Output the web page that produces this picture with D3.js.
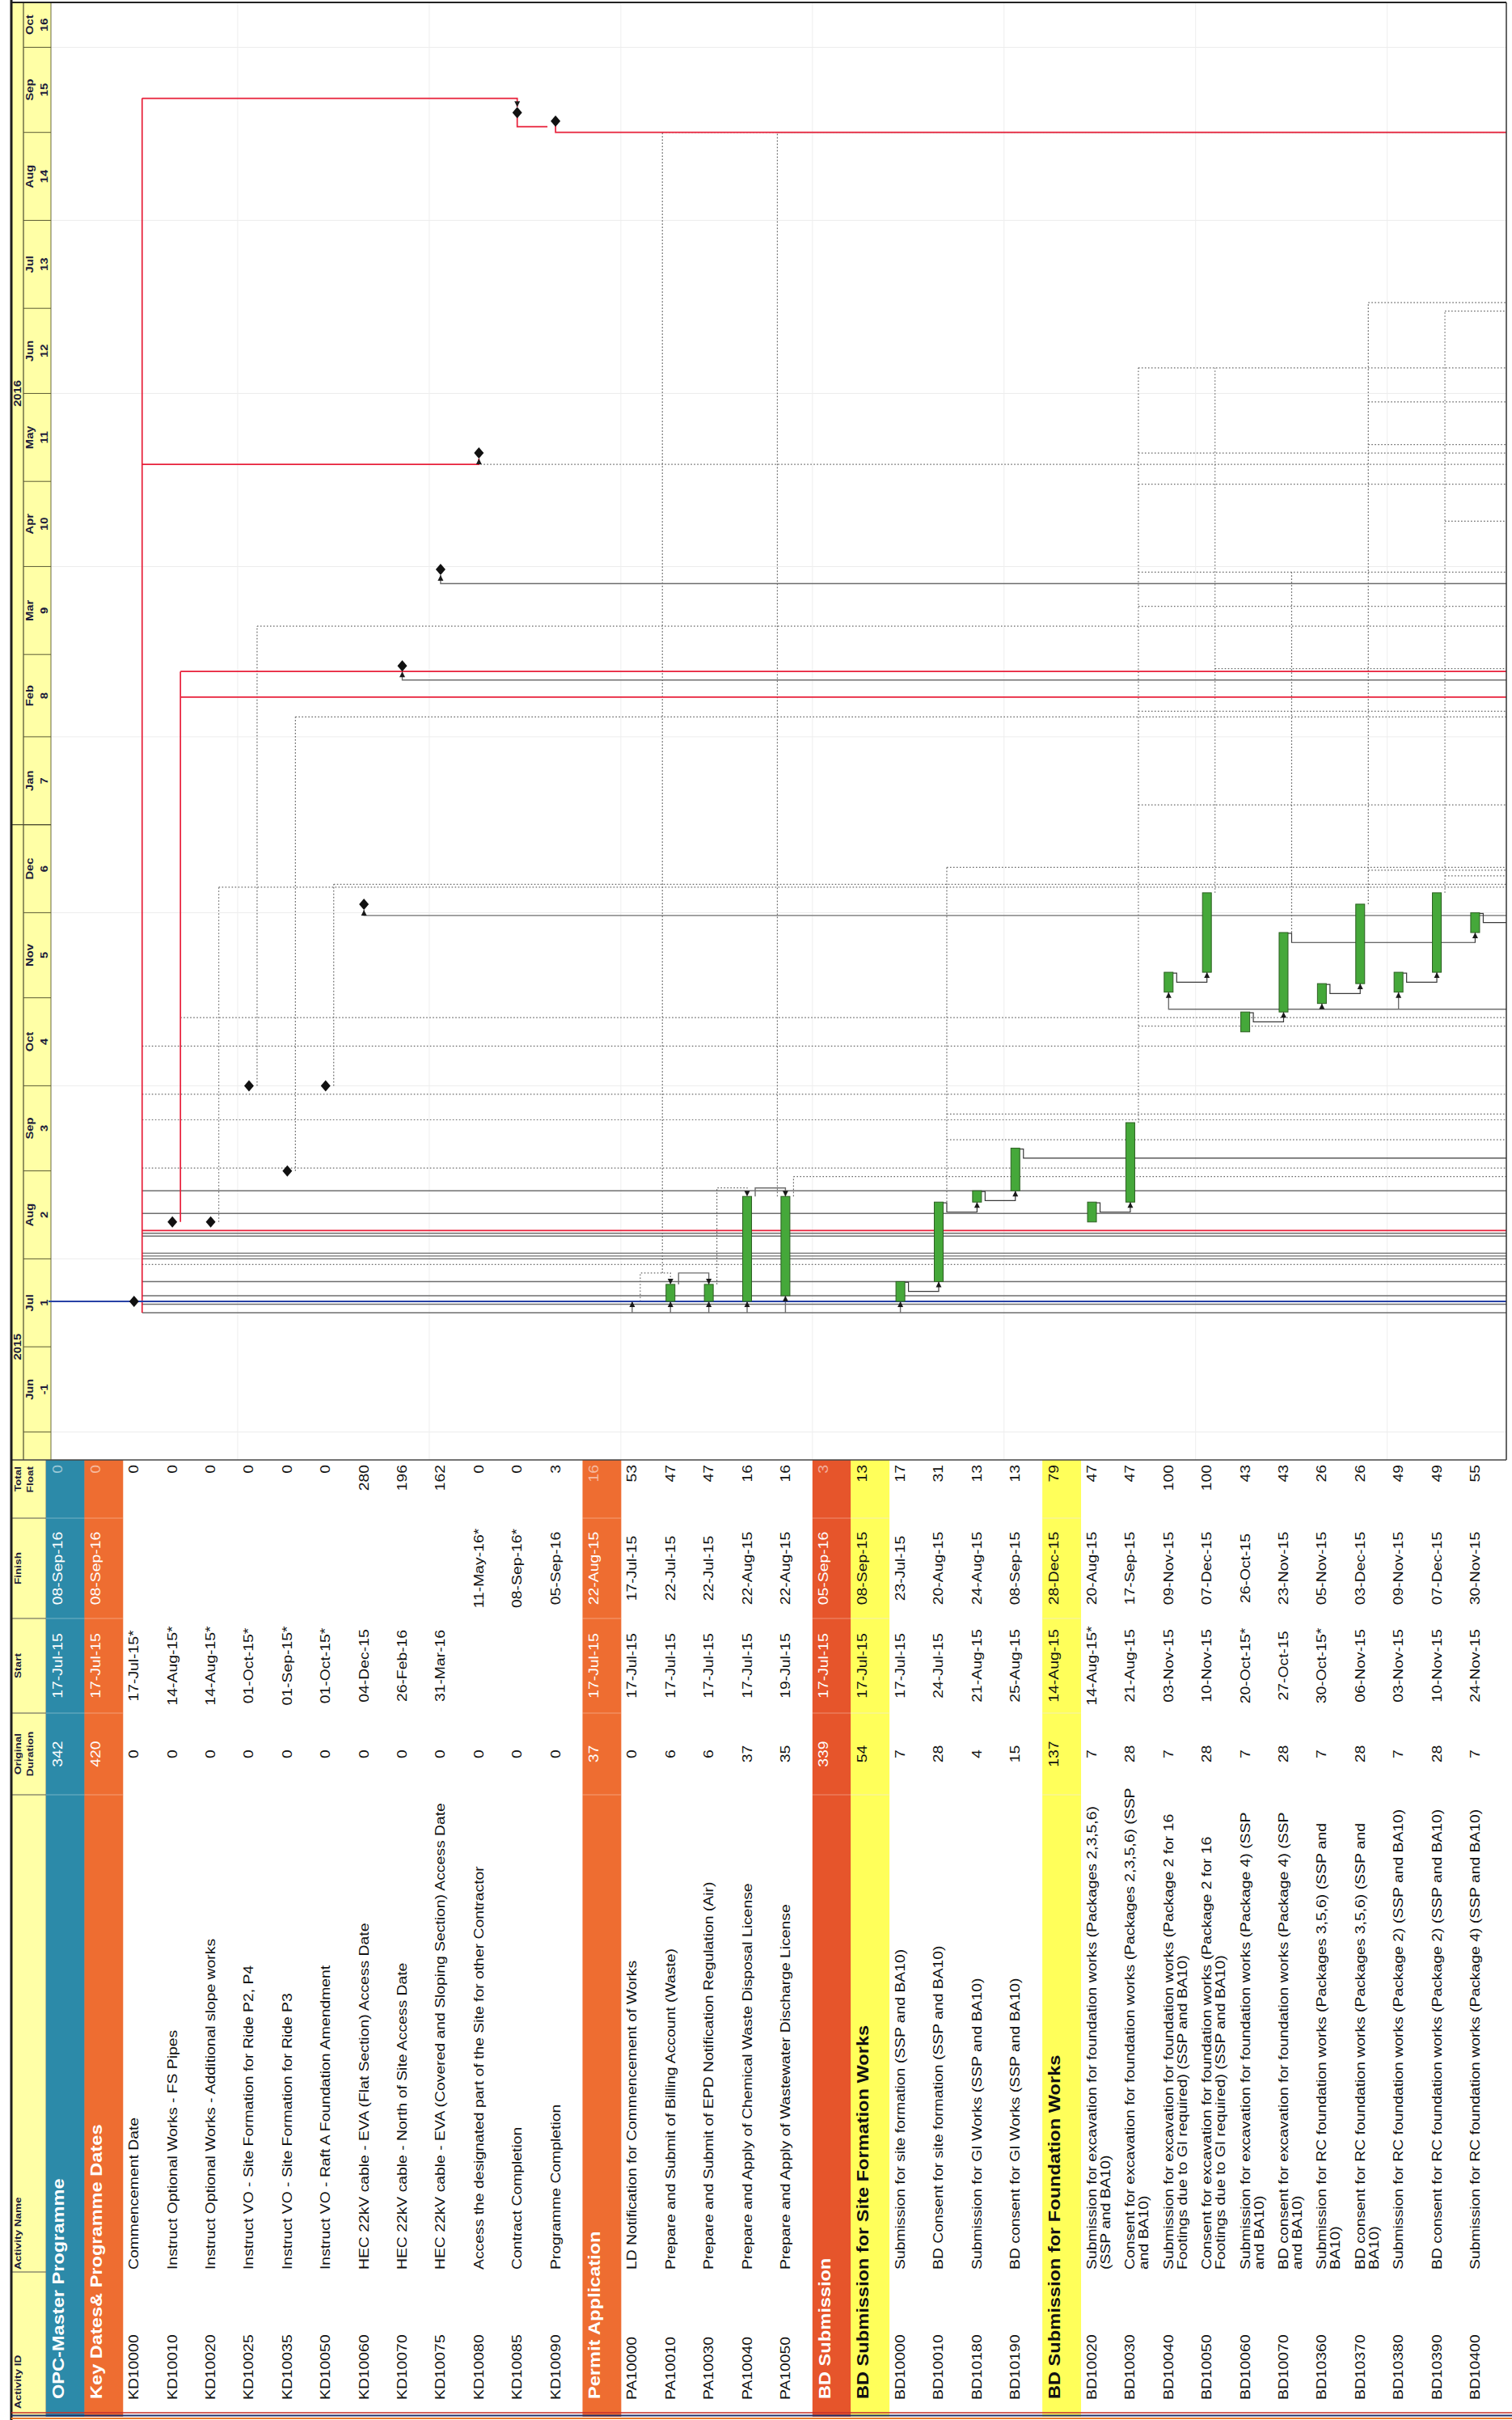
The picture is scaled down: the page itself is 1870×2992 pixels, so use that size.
<!DOCTYPE html>
<html><head><meta charset="utf-8">
<script src="https://cdn.jsdelivr.net/npm/d3@7"></script>
<style>body{margin:0;background:#fff}svg{display:block}text{font-family:"Liberation Sans",Arial,sans-serif}</style>
</head><body>
<svg id="c" width="1870" height="2992"></svg>
<script>
// ---------------- DATA ----------------
const activityIds = ["","","KD10000","KD10010","KD10020","KD10025","KD10035","KD10050","KD10060","KD10070","KD10075","KD10080","KD10085","KD10090","","PA10000","PA10010","PA10030","PA10040","PA10050","","","BD10000","BD10010","BD10180","BD10190","","BD10020","BD10030","BD10040","BD10050","BD10060","BD10070","BD10360","BD10370","BD10380","BD10390","BD10400"];
const activityNames = [
"OPC-Master Programme",
"Key Dates& Programme Dates",
"Commencement Date",
"Instruct Optional Works - FS Pipes",
"Instruct Optional Works - Additional slope works",
"Instruct VO - Site Formation for Ride P2, P4",
"Instruct VO - Site Formation for Ride P3",
"Instruct VO - Raft A Foundation Amendment",
"HEC 22kV cable - EVA (Flat Section) Access Date",
"HEC 22kV cable - North of Site Access Date",
"HEC 22kV cable - EVA (Covered and Sloping Section) Access Date",
"Access the designated part of the Site for other Contractor",
"Contract Completion",
"Programme Completion",
"Permit Application",
"LD Notification for Commencement of Works",
"Prepare and Submit of Billing Account (Waste)",
"Prepare and Submit of EPD Notification Regulation (Air)",
"Prepare and Apply of Chemical Waste Disposal License",
"Prepare and Apply of Wastewater Discharge License",
"BD Submission",
"BD Submission for Site Formation Works",
"Submission for site formation (SSP and BA10)",
"BD Consent for site formation (SSP and BA10)",
"Submission for GI Works (SSP and BA10)",
"BD consent for GI Works (SSP and BA10)",
"BD Submission for Foundation Works",
"Submission for excavation for foundation works (Packages 2,3,5,6)\n(SSP and BA10)",
"Consent for excavation for foundation works (Packages 2,3,5,6) (SSP\nand BA10)",
"Submission for excavation for foundation works (Package 2 for 16\nFootings due to GI required) (SSP and BA10)",
"Consent for excavation for foundation works (Package 2 for 16\nFootings due to GI required) (SSP and BA10)",
"Submission for excavation for foundation works (Package 4) (SSP\nand BA10)",
"BD consent for excavation for foundation works (Package 4) (SSP\nand BA10)",
"Submission for RC foundation works (Packages 3,5,6) (SSP and\nBA10)",
"BD consent for RC foundation works (Packages 3,5,6) (SSP and\nBA10)",
"Submission for RC foundation works (Package 2) (SSP and BA10)",
"BD consent for RC foundation works (Package 2) (SSP and BA10)",
"Submission for RC foundation works (Package 4) (SSP and BA10)"];
const rowKinds = ["wbs1","wbs2","ms","ms","ms","ms","ms","ms","ms","ms","ms","ms","ms","ms","wbs2","task","task","task","task","task","wbs2r","wbs3","task","task","task","task","wbs3","task","task","task","task","task","task","task","task","task","task","task"];
const durations = [342,420,0,0,0,0,0,0,0,0,0,0,0,0,37,0,6,6,37,35,339,54,7,28,4,15,137,7,28,7,28,7,28,7,28,7,28,7];
const starts = ["17-Jul-15","17-Jul-15","17-Jul-15*","14-Aug-15*","14-Aug-15*","01-Oct-15*","01-Sep-15*","01-Oct-15*","04-Dec-15","26-Feb-16","31-Mar-16","","","","17-Jul-15","17-Jul-15","17-Jul-15","17-Jul-15","17-Jul-15","19-Jul-15","17-Jul-15","17-Jul-15","17-Jul-15","24-Jul-15","21-Aug-15","25-Aug-15","14-Aug-15","14-Aug-15*","21-Aug-15","03-Nov-15","10-Nov-15","20-Oct-15*","27-Oct-15","30-Oct-15*","06-Nov-15","03-Nov-15","10-Nov-15","24-Nov-15"];
const finishes = ["08-Sep-16","08-Sep-16","","","","","","","","","","11-May-16*","08-Sep-16*","05-Sep-16","22-Aug-15","17-Jul-15","22-Jul-15","22-Jul-15","22-Aug-15","22-Aug-15","05-Sep-16","08-Sep-15","23-Jul-15","20-Aug-15","24-Aug-15","08-Sep-15","28-Dec-15","20-Aug-15","17-Sep-15","09-Nov-15","07-Dec-15","26-Oct-15","23-Nov-15","05-Nov-15","03-Dec-15","09-Nov-15","07-Dec-15","30-Nov-15"];
const totalFloats = [0,0,0,0,0,0,0,0,280,196,162,0,0,3,16,53,47,47,16,16,3,13,17,31,13,13,79,47,47,100,100,43,43,26,26,49,49,55];

const headerLabels = [["Activity ID"],["Activity Name"],["Original","Duration"],["Start"],["Finish"],["Total","Float"]];
const yearLabels = ["2015","2016"];
const yearLabelDates = ["01-Jul-15","01-Jun-16"];
const yearBreaks = ["01-Jan-16"];
const monthLabels = ["Jun","Jul","Aug","Sep","Oct","Nov","Dec","Jan","Feb","Mar","Apr","May","Jun","Jul","Aug","Sep","Oct"];
const monthNumbers = ["-1","1","2","3","4","5","6","7","8","9","10","11","12","13","14","15","16"];
const monthStarts = ["01-Jun-15","01-Jul-15","01-Aug-15","01-Sep-15","01-Oct-15","01-Nov-15","01-Dec-15","01-Jan-16","01-Feb-16","01-Mar-16","01-Apr-16","01-May-16","01-Jun-16","01-Jul-16","01-Aug-16","01-Sep-16","01-Oct-16","01-Nov-16"];
const gridDates = ["01-Jun-15","01-Aug-15","01-Oct-15","01-Dec-15","01-Feb-16","01-Apr-16","01-Jun-16","01-Aug-16","01-Oct-16"];
const dataDate = "17-Jul-15";

// relationship fans: [activity, side, run class, run start, [[branch date, class]]]
const fans = [
 ["KD10000","r","crit","13-Jul-15",[["13-Jul-15","drv"],["16-Jul-15","drv"],["19-Jul-15","drv"],["24-Jul-15","drv"],["30-Jul-15","nd"],["01-Aug-15","drv"],["02-Aug-15","drv"],["03-Aug-15","drv"],["09-Aug-15","drv"],["10-Aug-15","drv"],["11-Aug-15","crit"],["17-Aug-15","drv"],["25-Aug-15","drv"],["02-Sep-15","nd"],["19-Sep-15","nd"],["28-Sep-15","nd"],["15-Oct-15","nd"],["13-Sep-16",null]]],
 ["KD10010","r","crit","14-Aug-15",[["25-Oct-15","nd"],["15-Feb-16","crit"],["24-Feb-16","crit"]]],
 ["KD10020","r","nd","14-Aug-15",[["10-Dec-15","nd"]]],
 ["KD10025","r","nd","01-Oct-15",[["11-Mar-16","nd"]]],
 ["KD10035","r","nd","01-Sep-15",[["08-Feb-16","nd"]]],
 ["KD10050","r","nd","01-Oct-15",[["11-Dec-15","nd"]]],
 ["PA10010","l","nd","27-Jul-15",[["01-Sep-16","nd"]]],
 ["PA10050","l","nd","23-Aug-15",[["01-Sep-16","nd"]]],
 ["PA10050","r","nd","23-Aug-15",[["30-Aug-15","nd"]]],
 ["BD10010","r","nd","21-Aug-15",[["12-Sep-15","nd"],["21-Sep-15","nd"],["17-Dec-15","nd"]]],
 ["BD10030","r","nd","18-Sep-15",[["22-Oct-15","nd"],["08-Jan-16","nd"],["10-Feb-16","nd"],["18-Mar-16","nd"],["30-Mar-16","nd"],["30-Apr-16","nd"],["11-May-16","nd"],["10-Jun-16","nd"]]],
 ["BD10050","r","nd","08-Dec-15",[["25-Feb-16","nd"],["10-Jun-16",null]]],
 ["BD10070","r","nd","24-Nov-15",[["30-Mar-16",null]]],
 ["BD10370","r","nd","04-Dec-15",[["16-Dec-15","nd"],["14-May-16","nd"],["29-May-16","nd"],["03-Jul-16","nd"]]],
 ["BD10390","r","nd","08-Dec-15",[["14-Dec-15","nd"],["17-Apr-16","nd"],["30-Jun-16","nd"]]]
];
// routed relationships: [class, [[activity|edge, side, date], ...]]
const routedLinks = [
 ["crit",[["KD10000","r","13-Sep-16"],["KD10085","c","13-Sep-16"],["KD10085","c","10-Sep-16"]]],
 ["crit",[["KD10000","r","07-May-16"],["KD10080","c","07-May-16"],["KD10080","c","09-May-16"]]],
 ["crit",[["KD10085","c","08-Sep-16"],["KD10085","c","03-Sep-16"],["KD10090","l","03-Sep-16"]]],
 ["crit",[["KD10090","c","05-Sep-16"],["KD10090","c","01-Sep-16"],["edge","","01-Sep-16"]]],
 ["nd",[["KD10080","c","11-May-16"],["KD10080","c","07-May-16"],["edge","","07-May-16"]]],
 ["drv",[["edge","","30-Nov-15"],["KD10060","c","30-Nov-15"],["KD10060","c","02-Dec-15"]]],
 ["drv",[["edge","","21-Feb-16"],["KD10070","c","21-Feb-16"],["KD10070","c","24-Feb-16"]]],
 ["drv",[["edge","","26-Mar-16"],["KD10075","c","26-Mar-16"],["KD10075","c","29-Mar-16"]]],
 ["nd",[["PA10000","r","17-Jul-15"],["PA10000","r","27-Jul-15"],["PA10010","c","27-Jul-15"],["PA10010","c","23-Jul-15"]]],
 ["drv",[["PA10010","r","23-Jul-15"],["PA10010","r","27-Jul-15"],["PA10030","c","27-Jul-15"],["PA10030","c","23-Jul-15"]]],
 ["nd",[["PA10030","r","23-Jul-15"],["PA10030","r","26-Aug-15"],["PA10040","c","26-Aug-15"],["PA10040","c","23-Aug-15"]]],
 ["drv",[["PA10040","r","23-Aug-15"],["PA10040","r","26-Aug-15"],["PA10050","c","26-Aug-15"],["PA10050","c","23-Aug-15"]]],
 ["drv",[["PA10000","c","13-Jul-15"],["PA10000","c","17-Jul-15"]]],
 ["drv",[["PA10010","c","13-Jul-15"],["PA10010","c","17-Jul-15"]]],
 ["drv",[["PA10030","c","13-Jul-15"],["PA10030","c","17-Jul-15"]]],
 ["drv",[["PA10040","c","13-Jul-15"],["PA10040","c","17-Jul-15"]]],
 ["drv",[["PA10050","c","13-Jul-15"],["PA10050","c","19-Jul-15"]]],
 ["drv",[["BD10000","c","13-Jul-15"],["BD10000","c","17-Jul-15"]]],
 ["drv",[["edge","","28-Oct-15"],["BD10040","c","28-Oct-15"],["BD10040","c","03-Nov-15"]]],
 ["drv",[["BD10360","c","28-Oct-15"],["BD10360","c","30-Oct-15"]]],
 ["drv",[["BD10380","c","28-Oct-15"],["BD10380","c","03-Nov-15"]]]
];
// finish-to-start: [predecessor, successor or null for off-page]
const fsLinks = [["BD10000","BD10010"],["BD10010","BD10180"],["BD10180","BD10190"],["BD10020","BD10030"],["BD10040","BD10050"],["BD10060","BD10070"],["BD10360","BD10370"],["BD10380","BD10390"],["BD10070","BD10400"],["BD10190",null],["BD10400",null]];

// ---------------- LAYOUT ----------------
const SX = 1.18;
const LEFT = 14, HDR = 57, TLHDR = 63, GTOP = 3, GBOT = 1805, EDGE = 1863, PAGEB = 2988;
const colB = [1805, 1877, 2001, 2118, 2219, 2809, 2988];
const parse = s => d3.utcParse("%d-%b-%y")(s.replace("*", ""));
const yT = d3.scaleUtc().domain([parse("17-Jul-15"), parse("08-Sep-16")]).range([1609, 1609 - 419 * 3.508]);
const yd = s => yT(parse(s));
const xRow = d3.scaleLinear().domain([0, 37]).range([71, 71 + 37 * 47.39]);
const RH = 47.39;
const idx = id => activityIds.indexOf(id);
const markX = (id, side) => {
  if (id === "edge") return EDGE;
  const c = xRow(idx(id));
  return side === "r" ? c + 10 : side === "l" ? c - 10 : c;
};
const styles = {
  crit: {stroke: "#e8203a", w: 1.7, dash: null},
  drv: {stroke: "#6e6e6e", w: 1.4, dash: null},
  nd: {stroke: "#6a6a6a", w: 1.2, dash: "1.6 2.4"},
  link: {stroke: "#3a3a3a", w: 1.2, dash: null}
};
const bandFill = {wbs1: "#2c8aa9", wbs2: "#ee6d31", wbs2r: "#e6552b", wbs3: "#ffff5a"};

const svg = d3.select("#c");
const gGrid = svg.append("g"), gTable = svg.append("g"), gHead = svg.append("g"),
      gLinks = svg.append("g"), gMarks = svg.append("g"), gFrame = svg.append("g");

function rt(parent, x, y, lines, o = {}) {
  const t = parent.append("text")
    .attr("transform", `translate(${x},${y}) rotate(-90) scale(${o.sx || SX},1)`)
    .attr("font-size", o.size || 16.4).attr("font-weight", o.weight || "normal")
    .attr("text-anchor", o.anchor || "start").attr("fill", o.fill || "#111")
    .attr("fill-opacity", o.opacity == null ? 1 : o.opacity);
  lines.forEach((ln, k) => t.append("tspan").attr("x", 0).attr("dy", k ? (o.lh || 17) : 0).text(ln));
  return t;
}
function seg(g, pts, cls) {
  const s = styles[cls];
  g.append("path").attr("d", d3.line()(pts)).attr("fill", "none")
    .attr("stroke", s.stroke).attr("stroke-width", s.w)
    .attr("stroke-dasharray", s.dash);
}
function arrow(g, x, y, dir) {
  const b = dir === "up" ? y + 7 : y - 7;
  g.append("path").attr("d", `M${x},${y}L${x - 3.5},${b}L${x + 3.5},${b}Z`).attr("fill", "#1a1a1a");
}

// ---------------- GRID ----------------
gridDates.forEach(d => {
  const y = yd(d);
  if (y > GTOP && y < GBOT) gGrid.append("line").attr("x1", TLHDR).attr("x2", EDGE).attr("y1", y).attr("y2", y)
    .attr("stroke", "#ececec").attr("stroke-width", 1);
});
d3.range(5, 38, 5).forEach(i => {
  const x = xRow(i) - 14;
  gGrid.append("line").attr("x1", x).attr("x2", x).attr("y1", GTOP).attr("y2", GBOT)
    .attr("stroke", "#eeeeee").attr("stroke-width", 1);
});

// ---------------- TABLE ----------------
const colMid = k => (colB[k] + colB[k + 1]) / 2;
gTable.append("rect").attr("x", LEFT).attr("y", GBOT).attr("width", HDR - LEFT).attr("height", PAGEB - GBOT).attr("fill", "#ffffa6");
colB.slice(1, 6).forEach(y => gTable.append("line").attr("x1", LEFT).attr("x2", HDR).attr("y1", y).attr("y2", y).attr("stroke", "#555").attr("stroke-width", 1));
gTable.append("line").attr("x1", HDR).attr("x2", HDR).attr("y1", GBOT).attr("y2", PAGEB).attr("stroke", "#777").attr("stroke-width", 1);
const hdrOpts = {size: 11.5, weight: "bold", fill: "#1b1b3a", lh: 15};
rt(gTable, 26, colB[6] - 10, headerLabels[0], {...hdrOpts, anchor: "start"});
rt(gTable, 26, colB[5] - 3, headerLabels[1], {...hdrOpts, anchor: "start"});
rt(gTable, 26, colMid(3), headerLabels[2], {...hdrOpts, anchor: "middle"});
rt(gTable, 26, colMid(2), headerLabels[3], {...hdrOpts, anchor: "middle"});
rt(gTable, 26, colMid(1), headerLabels[4], {...hdrOpts, anchor: "middle"});
rt(gTable, 26, colB[0] + 8, headerLabels[5], {...hdrOpts, anchor: "end"});

activityIds.forEach((id, i) => {
  const kind = rowKinds[i];
  const c = xRow(i), top = c - 14, base = c + 5.5;
  const band = kind.startsWith("wbs");
  let fill = "#111", tfOpacity = 1;
  if (band) {
    gTable.append("rect").attr("x", top).attr("y", GBOT).attr("width", RH + 0.5).attr("height", PAGEB - GBOT).attr("fill", bandFill[kind]);
    colB.slice(1, 5).forEach(y => gTable.append("line").attr("x1", top).attr("x2", top + RH).attr("y1", y).attr("y2", y)
      .attr("stroke", kind === "wbs3" ? "#f4f0b0" : "rgba(255,255,255,0.35)").attr("stroke-width", 1));
    const light = kind !== "wbs3";
    fill = light ? "#ffffff" : "#111111";
    tfOpacity = light ? 0.55 : 1;
    rt(gTable, c + 8, colB[6] - 22, [activityNames[i]], {size: 20, weight: "bold", fill});
  } else {
    rt(gTable, base, colB[6] - 21, [id]);
    rt(gTable, base, colB[5] - 3, activityNames[i].split("\n"));
  }
  rt(gTable, base, colMid(3), [String(durations[i])], {anchor: "middle", fill});
  if (starts[i]) rt(gTable, base, colMid(2), [starts[i]], {anchor: "middle", fill});
  if (finishes[i]) rt(gTable, base, colMid(1), [finishes[i]], {anchor: "middle", fill});
  rt(gTable, base, colB[0] + 6, [String(totalFloats[i])], {anchor: "end", fill, opacity: tfOpacity});
});

// ---------------- TIMELINE HEADER ----------------
gHead.append("rect").attr("x", LEFT).attr("y", GTOP).attr("width", TLHDR - LEFT).attr("height", GBOT - GTOP).attr("fill", "#ffffa6");
gHead.append("line").attr("x1", 29).attr("x2", 29).attr("y1", GTOP).attr("y2", GBOT).attr("stroke", "#4a4a30").attr("stroke-width", 1.2);
gHead.append("line").attr("x1", TLHDR).attr("x2", TLHDR).attr("y1", GTOP).attr("y2", GBOT).attr("stroke", "#6b6b40").attr("stroke-width", 1);
monthLabels.forEach((m, k) => {
  const y0 = Math.min(GBOT, yd(monthStarts[k])), y1 = Math.max(GTOP, yd(monthStarts[k + 1]));
  if (yd(monthStarts[k]) < GBOT) gHead.append("line").attr("x1", 29).attr("x2", TLHDR).attr("y1", y0).attr("y2", y0).attr("stroke", "#5a5a35").attr("stroke-width", 1);
  const mid = (y0 + y1) / 2;
  rt(gHead, 41, mid, [m], {size: 12.5, weight: "bold", anchor: "middle", fill: "#1b1b3a"});
  rt(gHead, 59, mid, [monthNumbers[k]], {size: 12.5, weight: "bold", anchor: "middle", fill: "#1b1b3a"});
});
yearBreaks.forEach(d => gHead.append("line").attr("x1", LEFT).attr("x2", TLHDR).attr("y1", yd(d)).attr("y2", yd(d)).attr("stroke", "#4a4a30").attr("stroke-width", 1.2));
yearLabels.forEach((yl, k) => rt(gHead, 26, yd(yearLabelDates[k]), [yl], {size: 12.5, weight: "bold", anchor: "middle", fill: "#1b1b3a"}));

// ---------------- RELATIONSHIPS ----------------
const order = {nd: 0, drv: 1, link: 2, crit: 3};
const drawList = [];
fans.forEach(([id, side, runCls, from, branches]) => {
  const x = markX(id, side);
  const ys = branches.map(b => yd(b[0]));
  const y0 = yd(from), yTop = Math.min(...ys);
  drawList.push([runCls, [[x, y0], [x, yTop]]]);
  branches.forEach(([d, cls]) => { if (cls) drawList.push([cls, [[x, yd(d)], [EDGE, yd(d)]]]); });
});
const arrowList = [];
routedLinks.forEach(([cls, wp]) => {
  const pts = wp.map(([id, side, d]) => [markX(id, side), yd(d)]);
  drawList.push([cls, pts]);
  const last = wp[wp.length - 1];
  if (last[1] === "c") {
    const p = pts[pts.length - 1], q = pts[pts.length - 2];
    arrowList.push([p[0], p[1], p[1] < q[1] ? "up" : "down"]);
  }
});
fsLinks.forEach(([a, b]) => {
  const i = idx(a);
  const finEnd = d3.utcDay.offset(parse(finishes[i]), 1);
  const yF = yT(finEnd), yTurn = yT(d3.utcHour.offset(finEnd, -84));
  const c = xRow(i);
  const pts = [[c + 5.5, yF + 1], [c + 10, yF + 1], [c + 10, yTurn]];
  if (b) {
    const xs = xRow(idx(b)), yS = yd(starts[idx(b)]);
    pts.push([xs, yTurn], [xs, yS]);
    arrowList.push([xs, yS, "up"]);
  } else pts.push([EDGE, yTurn]);
  drawList.push(["link", pts]);
});
drawList.sort((p, q) => order[p[0]] - order[q[0]]).forEach(([cls, pts]) => seg(gLinks, pts, cls));

gLinks.append("line").attr("x1", TLHDR - 3).attr("x2", EDGE).attr("y1", yd(dataDate)).attr("y2", yd(dataDate))
  .attr("stroke", "#2741a6").attr("stroke-width", 2.2);

// ---------------- BARS & MILESTONES ----------------
activityIds.forEach((id, i) => {
  const kind = rowKinds[i], c = xRow(i);
  if (kind === "task" && durations[i] > 0) {
    const s = parse(starts[i]), f = d3.utcDay.offset(parse(finishes[i]), 1);
    gMarks.append("rect").attr("x", c - 5.5).attr("width", 11).attr("y", yT(f)).attr("height", yT(s) - yT(f))
      .attr("fill", "#45a83a").attr("stroke", "#2b5e20").attr("stroke-width", 1);
  } else if (kind === "ms") {
    const d = starts[i] ? starts[i] : finishes[i];
    const y = yd(d);
    gMarks.append("path").attr("d", `M${c},${y - 7}L${c + 6},${y}L${c},${y + 7}L${c - 6},${y}Z`).attr("fill", "#111");
  }
});
arrowList.forEach(([x, y, dir]) => arrow(gMarks, x, y, dir));

// ---------------- FRAME ----------------
gFrame.append("line").attr("x1", LEFT).attr("x2", EDGE).attr("y1", GTOP).attr("y2", GTOP).attr("stroke", "#222").attr("stroke-width", 2);
gFrame.append("line").attr("x1", EDGE).attr("x2", EDGE).attr("y1", GTOP).attr("y2", GBOT).attr("stroke", "#333").attr("stroke-width", 1.5);
gFrame.append("line").attr("x1", LEFT).attr("x2", EDGE).attr("y1", GBOT).attr("y2", GBOT).attr("stroke", "#444").attr("stroke-width", 1.5);
gFrame.append("line").attr("x1", LEFT).attr("x2", LEFT).attr("y1", 0).attr("y2", 2992).attr("stroke", "#1d1d1d").attr("stroke-width", 3);
[["#c8302a", 2983, 1.5], ["#22306a", 2986.5, 2], ["#e87a2a", 2990, 2]].forEach(([col, y, w]) =>
  gFrame.append("line").attr("x1", LEFT).attr("x2", 1870).attr("y1", y).attr("y2", y).attr("stroke", col).attr("stroke-width", w));
</script>
</body></html>
